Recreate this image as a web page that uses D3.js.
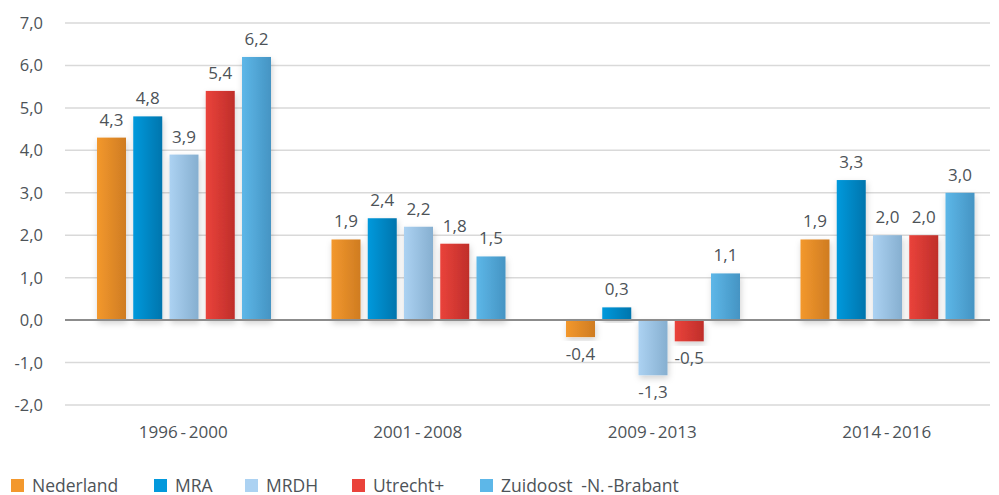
<!DOCTYPE html>
<meta charset="utf-8">
<title>Groei per periode</title>
<style>
  body { margin: 0; background: #fff; }
  svg { display: block; font-family: "Open Sans", sans-serif; }
</style>
<svg width="999" height="495"></svg>
<script src="https://cdn.jsdelivr.net/npm/d3@7"></script>
<script>

// periods on the x axis
var periods = ["1996 - 2000", "2001 - 2008", "2009 - 2013", "2014 - 2016"];
var regions = ["Nederland", "MRA", "MRDH", "Utrecht+", "Zuidoost -N.-Brabant"];

var nederland = [4.3, 1.9, -0.4, 1.9];
var mra       = [4.8, 2.4, 0.3, 3.3];
var mrdh      = [3.9, 2.2, -1.3, 2.0];
var utrecht   = [5.4, 1.8, -0.5, 2.0];
var zuidoost  = [6.2, 1.5, 1.1, 3.0];

var yTicks = [-2, -1, 0, 1, 2, 3, 4, 5, 6, 7];

var colorsLight = ["#f3982d", "#0399dc", "#acd2f2", "#ea433b", "#5db7e8"];
var colorsDark  = ["#cf7c22", "#0075ad", "#86afd0", "#bf2e2a", "#4594c3"];

var series = [nederland, mra, mrdh, utrecht, zuidoost];

var svg = d3.select("svg");
var fmt = function(v) { return d3.format(".1f")(v).replace(".", ",").replace("\u2212", "-"); };

var x0 = d3.scaleBand().domain(periods).range([66, 1004]);
var x1 = d3.scaleBand().domain(d3.range(5)).range([31, 205]).paddingInner(0.2);
var y = d3.scaleLinear().domain([-2, 7]).range([405, 23]);

var defs = svg.append("defs");
regions.forEach(function(r, i) {
  var g = defs.append("linearGradient").attr("id", "grad" + i)
    .attr("x1", 0).attr("x2", 1).attr("y1", 0).attr("y2", 0);
  g.append("stop").attr("offset", "0%").attr("stop-color", colorsLight[i]);
  g.append("stop").attr("offset", "100%").attr("stop-color", colorsDark[i]);
});
var f = defs.append("filter").attr("id", "shadow")
  .attr("x", "-30%").attr("y", "-10%").attr("width", "160%").attr("height", "130%");
f.append("feDropShadow").attr("dx", 1).attr("dy", 3).attr("stdDeviation", 3)
  .attr("flood-color", "#000").attr("flood-opacity", 0.18);

// grid
svg.append("g").selectAll("line")
  .data(yTicks.filter(function(d) { return d != 0; }))
  .enter().append("line")
    .attr("x1", 65).attr("x2", 990)
    .attr("y1", function(d) { return y(d); })
    .attr("y2", function(d) { return y(d); })
    .attr("stroke", "#d9d9d9").attr("stroke-width", 1.5);

svg.append("g").selectAll("text")
  .data(yTicks)
  .enter().append("text")
    .attr("x", 43).attr("y", function(d) { return y(d) + 6; })
    .attr("text-anchor", "end")
    .attr("font-size", 16.5).attr("fill", "#4d5358")
    .text(fmt);

// bars
var groups = svg.append("g").selectAll("g")
  .data(periods)
  .enter().append("g")
    .attr("transform", function(d) { return "translate(" + x0(d) + ",0)"; });

groups.selectAll("rect")
  .data(function(d, pi) { return series.map(function(s, i) { return {i: i, v: s[pi]}; }); })
  .enter().append("rect")
    .attr("x", function(d) { return x1(d.i); })
    .attr("width", x1.bandwidth())
    .attr("y", function(d) { return y(Math.max(0, d.v)); })
    .attr("height", function(d) { return Math.abs(y(d.v) - y(0)); })
    .attr("fill", function(d) { return "url(#grad" + d.i + ")"; })
    .attr("filter", "url(#shadow)");

groups.selectAll("text")
  .data(function(d, pi) { return series.map(function(s, i) { return {i: i, v: s[pi]}; }); })
  .enter().append("text")
    .attr("x", function(d) { return x1(d.i) + x1.bandwidth() / 2; })
    .attr("y", function(d) { return d.v >= 0 ? y(d.v) - 12 : y(d.v) + 23; })
    .attr("text-anchor", "middle")
    .attr("font-size", 17).attr("fill", "#4d5358")
    .text(function(d) { return fmt(d.v); });

// zero line
svg.append("line")
  .attr("x1", 65).attr("x2", 990)
  .attr("y1", y(0)).attr("y2", y(0))
  .attr("stroke", "#8c8c8c").attr("stroke-width", 2);

// category labels
svg.append("g").selectAll("text")
  .data(periods)
  .enter().append("text")
    .attr("x", function(d) { return x0(d) + x0.bandwidth() / 2; })
    .attr("y", 438)
    .attr("text-anchor", "middle")
    .attr("font-size", 17).attr("fill", "#4d5358")
    .text(function(d) { return d.replace(" - ", "\u2009-\u2009"); });

// legend
var legendX = [11, 154, 245, 352, 480];
var leg = svg.append("g").selectAll("g")
  .data(regions)
  .enter().append("g")
    .attr("transform", function(d, i) { return "translate(" + legendX[i] + ",479)"; });
leg.append("rect").attr("width", 13).attr("height", 13)
  .attr("fill", function(d, i) { return colorsLight[i]; });
leg.append("text").attr("x", 21).attr("y", 12.5)
  .attr("font-size", 17.5).attr("fill", "#4d5358")
  .text(function(d) { return d.replace(" -", "\u2002-").replace(".-", ".\u2009-"); });

</script>
